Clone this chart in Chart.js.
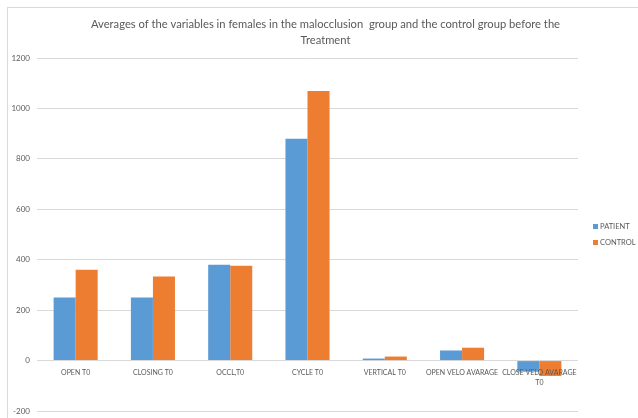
<!DOCTYPE html>
<html lang="en">
<head>
    <meta charset="UTF-8">
    <title>Averages of the variables in females</title>
    <style>
        body { margin: 0; background: #ffffff; }
        #wrap { position: relative; width: 638px; height: 418px; overflow: hidden; }
        #frame {
            position: absolute; left: 7px; top: 7px; width: 700px; height: 500px;
            border-left: 1px solid #d9d9d9; border-top: 1px solid #d9d9d9;
        }
        canvas { position: absolute; left: 0; top: 0; }
    </style>
</head>
<body>
    <div id="wrap">
        <div id="frame"></div>
        <canvas id="chart" width="638" height="418"></canvas>
    </div>

    <script src="https://cdn.jsdelivr.net/npm/chart.js"></script>
    <script>
        const categories = ['OPEN T0', 'CLOSING T0', 'OCCL,T0', 'CYCLE T0', 'VERTICAL T0', 'OPEN VELO AVARAGE', ['CLOSE VELO AVARAGE', 'T0']];
        const patient = [250, 250, 380, 880, 8, 40, -44];
        const control = [360, 333, 376, 1069, 16, 51, -61];
        const yTicks = [-200, 0, 200, 400, 600, 800, 1000, 1200];

        const fontFamily = 'Lato, "Open Sans", sans-serif';
        const textColor = '#595959';

        // legend drawn beside the plot, like the spreadsheet one
        const sideLegend = {
            id: 'sideLegend',
            afterDraw(chart) {
                const { ctx, chartArea } = chart;
                const mid = (chartArea.top + chartArea.bottom) / 2;
                ctx.save();
                ctx.font = '7.5px ' + fontFamily;
                ctx.textBaseline = 'middle';
                chart.data.datasets.forEach((ds, i) => {
                    const x = chartArea.right + 15;
                    const y = mid - 8 + i * 16;
                    ctx.fillStyle = ds.backgroundColor;
                    ctx.fillRect(x, y - 2.5, 5, 5);
                    ctx.fillStyle = textColor;
                    ctx.fillText(ds.label, x + 7, y + 0.5);
                });
                ctx.restore();
            }
        };

        new Chart(document.getElementById('chart'), {
            type: 'bar',
            data: {
                labels: categories,
                datasets: [
                    { label: 'PATIENT', data: patient, backgroundColor: '#5B9BD5' },
                    { label: 'CONTROL', data: control, backgroundColor: '#ED7D31' }
                ]
            },
            options: {
                responsive: false,
                animation: false,
                categoryPercentage: 0.57,
                barPercentage: 1.0,
                layout: { padding: { left: 7, right: -6, top: 7, bottom: 7 } },
                plugins: {
                    legend: { display: false },
                    tooltip: { enabled: false },
                    title: {
                        display: true,
                        text: ['Averages of the variables in females in the malocclusion  group and the control group before the', 'Treatment'],
                        color: textColor,
                        font: { family: fontFamily, size: 11.2, weight: 'normal', lineHeight: 1.43 },
                        padding: { top: 9, bottom: 10 }
                    }
                },
                scales: {
                    x: {
                        position: { y: 0 },
                        grid: { display: false, drawTicks: false },
                        border: { display: false },
                        ticks: {
                            z: 1,
                            color: textColor, autoSkip: false, maxRotation: 0, padding: 7,
                            font: { family: fontFamily, size: 7, lineHeight: 1.4 }
                        },
                        afterFit: s => { s.height = 0; s.paddingLeft = 0; s.paddingRight = 0; s.paddingBottom = 0; }
                    },
                    y: {
                        min: -200, max: 1200,
                        afterBuildTicks: s => { s.ticks = yTicks.map(v => ({ value: v })); },
                        grid: { color: '#d9d9d9', drawTicks: false },
                        border: { display: false },
                        ticks: {
                            color: textColor, padding: 7, font: { family: fontFamily, size: 8 },
                            callback: v => String(v)
                        },
                        afterFit: s => { s.width = 30; s.paddingBottom = 0; }
                    },
                    side: {
                        position: 'right',
                        grid: { display: false, drawTicks: false },
                        border: { display: false },
                        ticks: { display: false },
                        afterFit: s => { s.width = 66; }
                    }
                }
            },
            plugins: [sideLegend]
        });
    </script>
</body>
</html>
